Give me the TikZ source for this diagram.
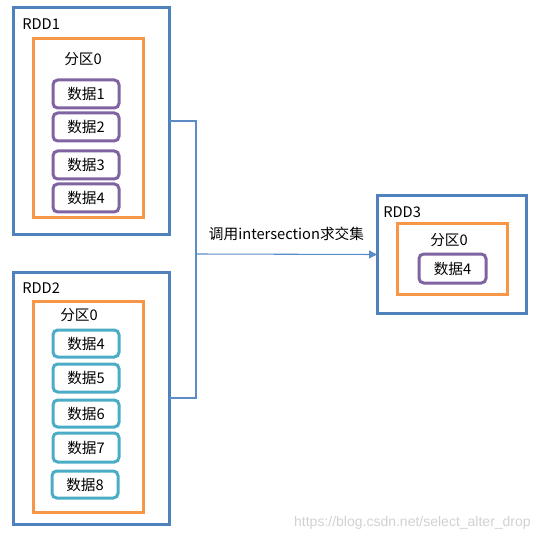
\documentclass[tikz,border=0pt]{standalone}
\usepackage{fontspec}
\setmainfont{Noto Sans CJK SC}
\newfontfamily\wmfont{Liberation Sans}
\usetikzlibrary{fit,arrows.meta}
\definecolor{rddblue}{HTML}{4F81BD}
\definecolor{linkblue}{HTML}{5B8CC8}
\definecolor{partorange}{HTML}{F79646}
\definecolor{datapurple}{HTML}{8064A2}
\definecolor{datateal}{HTML}{4BACC6}
\begin{document}
\begin{tikzpicture}[x=0.75pt,y=-0.75pt,
  every node/.style={font=\fontsize{11}{13}\selectfont},
  rddbox/.style={draw=rddblue, line width=2.25pt, inner sep=0pt, outer sep=0pt},
  partbox/.style={draw=partorange, line width=2.25pt, inner sep=0pt, outer sep=0pt},
  databox/.style={rounded corners=3.5pt, line width=2.25pt, inner sep=0pt, outer sep=0pt},
  pdata/.style={databox, draw=datapurple},
  tdata/.style={databox, draw=datateal},
  lbl/.style={inner sep=0pt, anchor=west},
  dtext/.style={inner sep=0pt, anchor=center},
  link/.style={draw=linkblue, line width=0.8pt}]
\useasboundingbox (0,0) rectangle (540,541);

% RDD1
\node[rddbox, fit={(13,8) (169,234)}] (rdd1) {};
\node[lbl] (rdd1l) at (22,24) {RDD1};
\node[partbox, fit={(33,39) (143,218)}] (p1) {};
\node (p1l) at (83,59) {分区0};
\node[pdata, fit={(53,80) (119,108)}] (d11) {};
\node[pdata, fit={(53,113) (119,141)}] (d12) {};
\node[pdata, fit={(53,151) (119,179)}] (d13) {};
\node[pdata, fit={(53,184) (119,212)}] (d14) {};
\node[dtext] (t11) at (d11.center) {数据1};
\node[dtext] (t12) at (d12.center) {数据2};
\node[dtext] (t13) at (d13.center) {数据3};
\node[dtext] (t14) at (d14.center) {数据4};

% RDD2
\node[rddbox, fit={(13,272) (169,524)}] (rdd2) {};
\node[lbl] (rdd2l) at (22,288) {RDD2};
\node[partbox, fit={(33,301) (143,512)}] (p2) {};
\node (p2l) at (79,315) {分区0};
\node[tdata, fit={(53,330) (119,357)}] (d24) {};
\node[tdata, fit={(53,364) (119,392)}] (d25) {};
\node[tdata, fit={(53,400) (119,427)}] (d26) {};
\node[tdata, fit={(53,433) (119,462)}] (d27) {};
\node[tdata, fit={(52,471) (118,498)}] (d28) {};
\node[dtext] (t24) at (d24.center) {数据4};
\node[dtext] (t25) at (d25.center) {数据5};
\node[dtext] (t26) at (d26.center) {数据6};
\node[dtext] (t27) at (d27.center) {数据7};
\node[dtext] (t28) at (d28.center) {数据8};

% RDD3
\node[rddbox, fit={(377,196) (526,313)}] (rdd3) {};
\node[lbl] (rdd3l) at (383,212) {RDD3};
\node[partbox, fit={(397,224) (507,294)}] (p3) {};
\node (p3l) at (449,240) {分区0};
\node[pdata, fit={(419,254) (486,283)}] (d34) {};
\node[dtext] (t34) at (d34.center) {数据4};

% connectors
\coordinate (j) at (196,254);
\draw[link] (rdd1.east) -| (j);
\draw[link] (rdd2.east) -| (j);
\draw[link, -{Triangle[length=6pt,width=6pt]}] (j) -- node[midway, yshift=15pt] {调用intersection求交集} (rdd3.west);

% watermark
\node[font=\wmfont\fontsize{10.5}{12}\selectfont, text=black!18, anchor=east, inner sep=0pt] (wm) at (531,523) {https://blog.csdn.net/select\_alter\_drop};
\end{tikzpicture}
\end{document}
